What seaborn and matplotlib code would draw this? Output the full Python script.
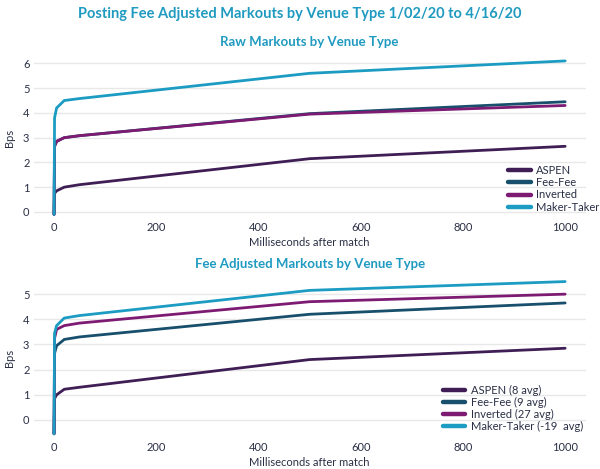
import numpy as np
import pandas as pd
import seaborn as sns
import matplotlib
matplotlib.use("Agg")
import matplotlib.pyplot as plt

ms = [0, 1, 5, 20, 50, 500, 1000]

raw_aspen = [-0.1, 0.75, 0.85, 1.0, 1.1, 2.15, 2.65]
raw_feefee = [-0.1, 2.65, 2.85, 3.0, 3.08, 3.97, 4.45]
raw_inverted = [-0.1, 2.65, 2.85, 3.0, 3.08, 3.95, 4.3]
raw_makertaker = [-0.1, 3.8, 4.2, 4.5, 4.58, 5.6, 6.1]

adj_aspen = [-0.55, 0.85, 1.0, 1.22, 1.3, 2.4, 2.85]
adj_feefee = [-0.55, 2.65, 2.95, 3.2, 3.3, 4.2, 4.65]
adj_inverted = [-0.55, 3.25, 3.6, 3.75, 3.85, 4.7, 5.0]
adj_makertaker = [-0.55, 3.45, 3.75, 4.05, 4.15, 5.15, 5.5]

raw_labels = ["ASPEN", "Fee-Fee", "Inverted", "Maker-Taker"]
adj_labels = ["ASPEN (8 avg)", "Fee-Fee (9 avg)", "Inverted (27 avg)", "Maker-Taker (-19  avg)"]
colors = ["#3f1e55", "#174f6c", "#7d1b72", "#1c9cc2"]

sns.set_theme(style="white")
plt.rcParams['font.family'] = ['Lato', 'DejaVu Sans']

def long_df(series, labels):
    rows = []
    for vals, lab in zip(series, labels):
        for x, v in zip(ms, vals):
            rows.append({"ms": x, "Bps": v, "venue": lab})
    return pd.DataFrame(rows)

df_raw = long_df([raw_aspen, raw_feefee, raw_inverted, raw_makertaker], raw_labels)
df_adj = long_df([adj_aspen, adj_feefee, adj_inverted, adj_makertaker], adj_labels)

fig = plt.figure(figsize=(6, 4.69), dpi=100)
ax1 = fig.add_axes([0.056, 0.535, 0.92, 0.343])
ax2 = fig.add_axes([0.056, 0.067, 0.92, 0.338])

title_color = "#1f9ac0"
text_color = "#2a2f45"

for ax, df, labels, ylim, yticks, sub, anchor_x in [
    (ax1, df_raw, raw_labels, (-0.25, 6.25), range(0, 7), "Raw Markouts by Venue Type", 1.035),
    (ax2, df_adj, adj_labels, (-0.7, 5.6), range(0, 6), "Fee Adjusted Markouts by Venue Type", 1.005),
]:
    sns.lineplot(data=df, x="ms", y="Bps", hue="venue", hue_order=labels,
                 palette=dict(zip(labels, colors)), linewidth=2.0, ax=ax,
                 legend=True)
    ax.set_xlim(-40, 1040)
    ax.set_ylim(*ylim)
    ax.set_yticks(list(yticks))
    ax.set_xticks([0, 200, 400, 600, 800, 1000])
    ax.grid(axis="y", color="#e8e8e8", linewidth=1.0)
    ax.grid(axis="x", visible=False)
    for s in ax.spines.values():
        s.set_visible(False)
    ax.tick_params(axis="both", length=0, labelsize=8, colors=text_color, pad=3)
    ax.set_xlabel("Milliseconds after match", fontsize=8, color=text_color, labelpad=3)
    ax.set_ylabel("Bps", fontsize=8, color=text_color, labelpad=6)
    ax.set_title(sub, fontsize=9.5, color=title_color, fontweight="bold", pad=8)
    leg = ax.legend(loc="lower right", bbox_to_anchor=(anchor_x, 0), frameon=False,
                    fontsize=8, handlelength=2.0,
                    handletextpad=0.5, labelspacing=0.1, borderaxespad=0.1)
    for line in leg.get_lines():
        line.set_linewidth(3.2)
        line.set_solid_capstyle("round")
    for t in leg.get_texts():
        t.set_color(text_color)

fig.suptitle("Posting Fee Adjusted Markouts by Venue Type 1/02/20 to 4/16/20",
             fontsize=10.5, color=title_color, fontweight="bold", y=0.985)

fig.savefig("out.png", dpi=100)
